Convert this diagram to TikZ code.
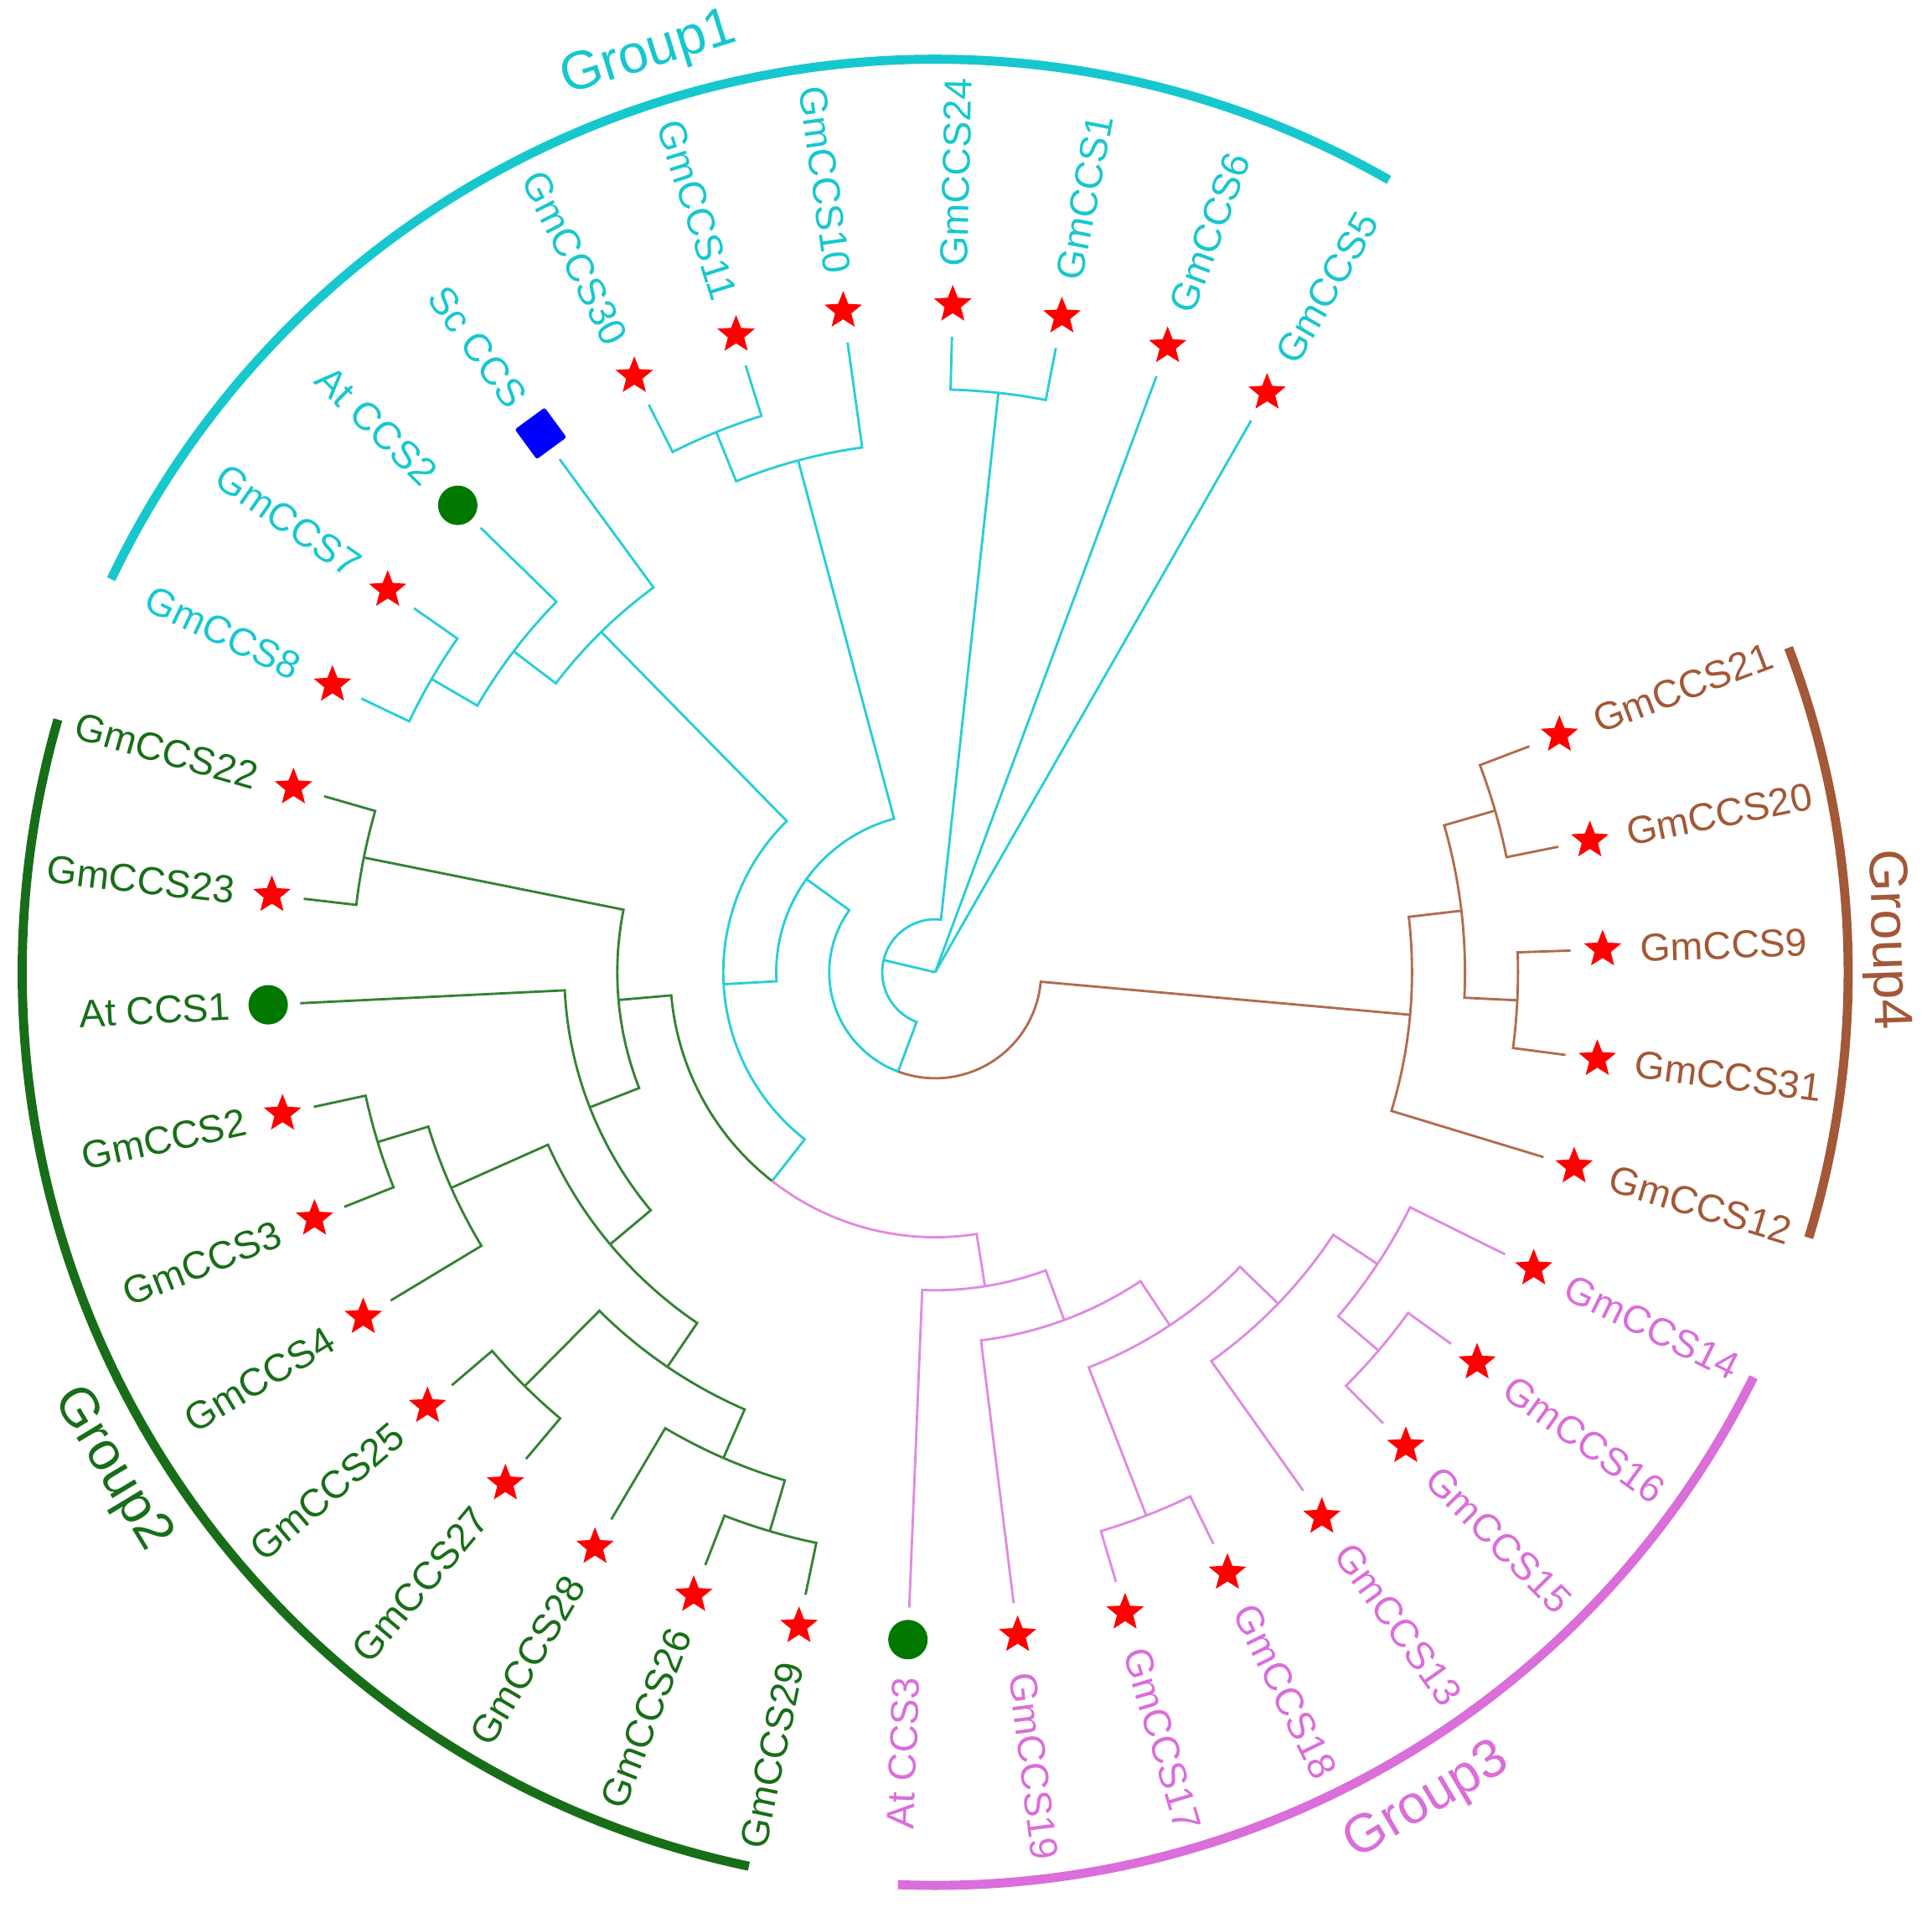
\documentclass[tikz,border=0pt]{standalone}
\usepackage{fontspec}
\setmainfont{Liberation Sans}
\usetikzlibrary{shapes.geometric}

\definecolor{cyanclade}{RGB}{22,200,206}
\definecolor{greenclade}{RGB}{24,110,24}
\definecolor{pinkclade}{RGB}{218,110,218}
\definecolor{brownclade}{RGB}{163,88,55}
\definecolor{cyanbranch}{RGB}{40,206,214}
\definecolor{greenbranch}{RGB}{52,130,52}
\definecolor{pinkbranch}{RGB}{224,138,226}
\definecolor{brownbranch}{RGB}{176,108,78}
\definecolor{dotgreen}{RGB}{0,120,0}

\tikzset{
    branchline/.style = {line width=0.55pt},
    grouparc/.style = {line width=2.1pt},
    leaflabel/.style = {inner sep=0pt, font=\fontsize{9}{11}\selectfont},
    grouplabel/.style = {inner sep=0pt, font=\fontsize{12.5}{15}\selectfont},
    starmark/.style = {star, star points=5, star point ratio=2.3, fill=red, minimum size=3.2mm, inner sep=0pt},
    dotmark/.style = {circle, fill=dotgreen, minimum size=3.2mm, inner sep=0pt},
    boxmark/.style = {rectangle, fill=blue, minimum size=3mm, inner sep=0pt, rounded corners=0.5pt, rotate=\leafang}
}

% one level of the cladogram
\newcommand{\lvlstep}{0.43}
\newcommand{\setnode}[3]{%
    \pgfmathsetmacro{\tmpang}{#2}%
    \pgfmathsetmacro{\tmprad}{#3*\lvlstep}%
    \expandafter\xdef\csname ang#1\endcsname{\tmpang}%
    \expandafter\xdef\csname rad#1\endcsname{\tmprad}%
    \coordinate (#1) at (\tmpang:\tmprad);}
\newcommand{\joinnode}[4]{%
    \edef\tmpsum{(\csname ang#2\endcsname+\csname ang#3\endcsname)/2}%
    \setnode{#1}{\tmpsum}{#4}}
\newcommand{\branch}[3]{%
    \edef\brA{\csname ang#1\endcsname}%
    \edef\brP{\csname ang#2\endcsname}%
    \edef\brR{\csname rad#2\endcsname}%
    \draw[branchline, #3] (#1) -- (\brA:\brR) arc[start angle=\brA, end angle=\brP, radius=\brR];}

\begin{document}
\begin{tikzpicture}
\useasboundingbox (-7.59,-7.67) rectangle (8.09,7.89);

% leaves
\foreach \leaf/\leaftext/\leafmark/\leafcol [count=\i from 0] in {
    GmCCS5/GmCCS5/starmark/cyanclade, GmCCS6/GmCCS6/starmark/cyanclade,
    GmCCS1/GmCCS1/starmark/cyanclade, GmCCS24/GmCCS24/starmark/cyanclade,
    GmCCS10/GmCCS10/starmark/cyanclade, GmCCS11/GmCCS11/starmark/cyanclade,
    GmCCS30/GmCCS30/starmark/cyanclade, ScCCS/Sc CCS/boxmark/cyanclade,
    AtCCS2/At CCS2/dotmark/cyanclade, GmCCS7/GmCCS7/starmark/cyanclade,
    GmCCS8/GmCCS8/starmark/cyanclade,
    GmCCS22/GmCCS22/starmark/greenclade, GmCCS23/GmCCS23/starmark/greenclade,
    AtCCS1/At CCS1/dotmark/greenclade, GmCCS2/GmCCS2/starmark/greenclade,
    GmCCS3/GmCCS3/starmark/greenclade, GmCCS4/GmCCS4/starmark/greenclade,
    GmCCS25/GmCCS25/starmark/greenclade, GmCCS27/GmCCS27/starmark/greenclade,
    GmCCS28/GmCCS28/starmark/greenclade, GmCCS26/GmCCS26/starmark/greenclade,
    GmCCS29/GmCCS29/starmark/greenclade,
    AtCCS3/At CCS3/dotmark/pinkclade, GmCCS19/GmCCS19/starmark/pinkclade,
    GmCCS17/GmCCS17/starmark/pinkclade, GmCCS18/GmCCS18/starmark/pinkclade,
    GmCCS13/GmCCS13/starmark/pinkclade, GmCCS15/GmCCS15/starmark/pinkclade,
    GmCCS16/GmCCS16/starmark/pinkclade, GmCCS14/GmCCS14/starmark/pinkclade,
    GmCCS12/GmCCS12/starmark/brownclade, GmCCS31/GmCCS31/starmark/brownclade,
    GmCCS9/GmCCS9/starmark/brownclade, GmCCS20/GmCCS20/starmark/brownclade,
    GmCCS21/GmCCS21/starmark/brownclade}
{
    \pgfmathsetmacro{\leafang}{60.2+9.43*\i}
    \setnode{\leaf}{\leafang}{12}
    \node[\leafmark] (m\leaf) at (\leafang:5.42) {};
    \pgfmathtruncatemacro{\flip}{and(mod(\leafang,360)>90,mod(\leafang,360)<270)}
    \ifnum\flip=1
        \node[leaflabel, text=\leafcol, anchor=east, rotate=\leafang-180] (t\leaf) at (\leafang:5.72) {\leaftext};
    \else
        \node[leaflabel, text=\leafcol, anchor=west, rotate=\leafang] (t\leaf) at (\leafang:5.72) {\leaftext};
    \fi
}

% inner nodes
\joinnode{A1}{GmCCS7}{GmCCS8}{11}
\joinnode{A2}{A1}{AtCCS2}{10}
\joinnode{A3}{A2}{ScCCS}{9}
\joinnode{B1}{GmCCS11}{GmCCS30}{11}
\joinnode{B2}{B1}{GmCCS10}{10}
\joinnode{C1}{GmCCS24}{GmCCS1}{11}
\joinnode{S1}{GmCCS22}{GmCCS23}{11}
\joinnode{W1}{GmCCS2}{GmCCS3}{11}
\joinnode{Z1}{W1}{GmCCS4}{10}
\joinnode{V1}{GmCCS25}{GmCCS27}{11}
\joinnode{U1}{GmCCS26}{GmCCS29}{11}
\joinnode{V2}{GmCCS28}{U1}{10}
\joinnode{Z2}{V1}{V2}{9}
\joinnode{Y1}{Z1}{Z2}{8}
\joinnode{X1}{AtCCS1}{Y1}{7}
\joinnode{R0}{S1}{X1}{6}
\joinnode{P6}{GmCCS15}{GmCCS16}{11}
\joinnode{P5}{P6}{GmCCS14}{10}
\joinnode{P4}{GmCCS13}{P5}{9}
\joinnode{P7}{GmCCS17}{GmCCS18}{11}
\joinnode{P3}{P7}{P4}{8}
\joinnode{P2}{GmCCS19}{P3}{7}
\joinnode{P1}{AtCCS3}{P2}{6}
\joinnode{N1}{GmCCS20}{GmCCS21}{11}
\joinnode{N3}{GmCCS31}{GmCCS9}{11}
\joinnode{N2}{N3}{N1}{10}
\joinnode{N4}{GmCCS12}{N2}{9}
\joinnode{Q0}{R0}{P1}{5}
\joinnode{E0}{A3}{Q0}{4}
\joinnode{F0}{B2}{E0}{3}
\joinnode{G0}{F0}{N4}{2}
\joinnode{H0}{C1}{G0}{1}
\setnode{root}{0}{0}

% branches
\foreach \c/\p in {GmCCS7/A1, GmCCS8/A1, A1/A2, AtCCS2/A2, A2/A3, ScCCS/A3,
    GmCCS11/B1, GmCCS30/B1, B1/B2, GmCCS10/B2, GmCCS24/C1, GmCCS1/C1,
    A3/E0, Q0/E0, B2/F0, E0/F0, F0/G0, C1/H0, G0/H0}
    \branch{\c}{\p}{cyanbranch};
\foreach \c/\p in {GmCCS22/S1, GmCCS23/S1, GmCCS2/W1, GmCCS3/W1, W1/Z1, GmCCS4/Z1,
    GmCCS25/V1, GmCCS27/V1, GmCCS26/U1, GmCCS29/U1, GmCCS28/V2, U1/V2,
    V1/Z2, V2/Z2, Z1/Y1, Z2/Y1, AtCCS1/X1, Y1/X1, S1/R0, X1/R0, R0/Q0}
    \branch{\c}{\p}{greenbranch};
\foreach \c/\p in {GmCCS15/P6, GmCCS16/P6, P6/P5, GmCCS14/P5, GmCCS13/P4, P5/P4,
    GmCCS17/P7, GmCCS18/P7, P7/P3, P4/P3, GmCCS19/P2, P3/P2, AtCCS3/P1, P2/P1, P1/Q0}
    \branch{\c}{\p}{pinkbranch};
\foreach \c/\p in {GmCCS20/N1, GmCCS21/N1, GmCCS31/N3, GmCCS9/N3, N3/N2, N1/N2,
    GmCCS12/N4, N2/N4, N4/G0}
    \branch{\c}{\p}{brownbranch};
\foreach \c in {GmCCS5, GmCCS6, H0}
    \draw[branchline, cyanbranch] (\c) -- (root);

% group arcs
\foreach \grpfrom/\grpto/\grprad/\grpcol/\grptext in {60.2/154.5/7.80/cyanclade/Group1,
    163.93/258.23/7.81/greenclade/Group2, 267.66/333.67/7.83/pinkclade/Group3,
    343.1/380.82/7.72/brownclade/Group4}
{
    \draw[grouparc, \grpcol] (\grpfrom:7.41) arc[start angle=\grpfrom, end angle=\grpto, radius=7.41];
    \pgfmathsetmacro{\grpmid}{(\grpfrom+\grpto)/2}
    \pgfmathsetmacro{\grprot}{mod(\grpmid,360)<180 ? \grpmid-90 : \grpmid+90}
    \node[grouplabel, text=\grpcol, rotate=\grprot] (l\grptext) at (\grpmid:\grprad) {\grptext};
}
\end{tikzpicture}
\end{document}
